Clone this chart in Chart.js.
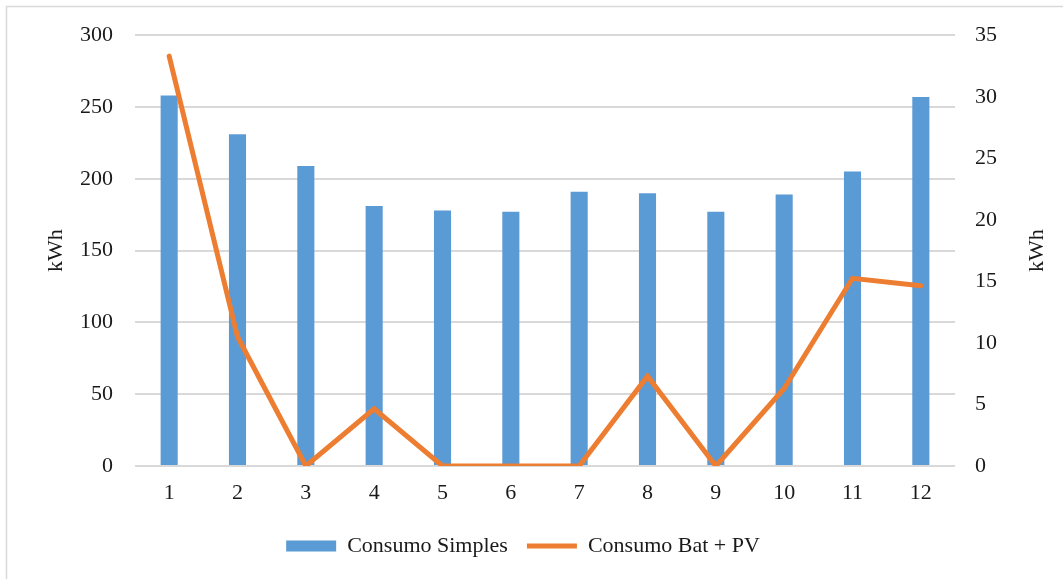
<!DOCTYPE html>
<html>
<head>
<meta charset="utf-8">
<script src="https://cdn.jsdelivr.net/npm/chart.js@4"></script>
<style>
  html, body { margin: 0; padding: 0; background: #fff; }
</style>
</head>
<body>
<canvas id="consumo" width="1063" height="579"></canvas>
<script>
// data
var meses = ["1", "2", "3", "4", "5", "6", "7", "8", "9", "10", "11", "12"];
var consumoSimples = [258, 231, 209, 181, 178, 177, 191, 190, 177, 189, 205, 257];
var consumoBatPV = [33.3, 10.5, 0, 4.65, 0, 0, 0, 7.3, 0, 6.3, 15.25, 14.65];

Chart.defaults.font.family = "'Liberation Serif', 'Times New Roman', serif";
Chart.defaults.font.size = 22;
Chart.defaults.color = "#1a1a1a";

// outer frame + right "kWh" title reading upwards (like the left one)
var extras = {
    id: "extras",
    beforeDraw: function (chart) {
        var ctx = chart.ctx;
        ctx.save();
        ctx.fillStyle = "#fff";
        ctx.fillRect(0, 0, chart.width, chart.height);
        ctx.strokeStyle = "#d9d9d9";
        ctx.lineWidth = 1.5;
        ctx.strokeRect(6.5, 6.5, 1070, 600);
        ctx.restore();
    },
    afterDraw: function (chart) {
        var ctx = chart.ctx;
        ctx.save();
        ctx.translate(1037, (chart.chartArea.top + chart.chartArea.bottom) / 2);
        ctx.rotate(-Math.PI / 2);
        ctx.textAlign = "center";
        ctx.textBaseline = "middle";
        ctx.fillStyle = "#1a1a1a";
        ctx.font = "22px 'Liberation Serif', serif";
        ctx.fillText("kWh", 0, 0);
        ctx.restore();
    }
};

var consumoChart = new Chart("consumo", {
    type: "bar",
    data: {
        labels: meses,
        datasets: [{
            label: "Consumo Simples",
            data: consumoSimples,
            backgroundColor: "#5b9bd5",
            borderWidth: 0,
            barPercentage: 0.5,
            categoryPercentage: 0.5,
            yAxisID: "y",
            pointStyle: "rect",
            order: 2
        }, {
            type: "line",
            label: "Consumo Bat + PV",
            data: consumoBatPV,
            borderColor: "#ed7d31",
            backgroundColor: "#ed7d31",
            borderWidth: 5,
            borderCapStyle: "round",
            pointRadius: 0,
            pointStyle: "line",
            tension: 0,
            yAxisID: "y2",
            order: 1
        }]
    },
    options: {
        responsive: false,
        animation: false,
        layout: { padding: { left: 8, right: 25, top: 35, bottom: 12 } },
        plugins: {
            tooltip: { enabled: false },
            legend: {
                position: "bottom",
                labels: {
                    usePointStyle: true,
                    pointStyleWidth: 50,
                    boxHeight: 11,
                    padding: 19,
                    sort: function (a, b) { return a.datasetIndex - b.datasetIndex; }
                }
            }
        },
        scales: {
            x: {
                grid: { display: false },
                border: { display: false },
                ticks: { padding: 6, maxRotation: 0 },
                afterFit: function (s) { s.height = 50; }
            },
            y: {
                position: "left",
                min: 0,
                max: 300,
                ticks: { stepSize: 50, padding: 22 },
                grid: { color: "#d9d9d9", lineWidth: 2, drawTicks: false },
                border: { display: false },
                title: { display: true, text: "kWh", padding: { top: 35, bottom: 0 } },
                afterFit: function (s) { s.width = 127; }
            },
            y2: {
                position: "right",
                min: 0,
                max: 35,
                ticks: { stepSize: 5, padding: 20 },
                grid: { drawOnChartArea: false, drawTicks: false },
                border: { display: false },
                afterFit: function (s) { s.width = 83; }
            }
        }
    },
    plugins: [extras]
});
</script>
</body>
</html>
